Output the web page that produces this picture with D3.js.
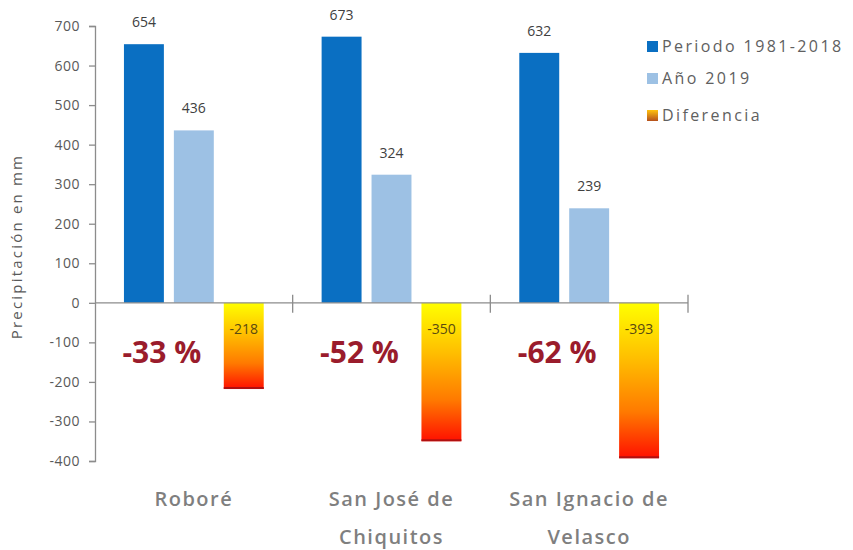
<!DOCTYPE html>
<html>
<head>
<meta charset="utf-8">
<script src="https://cdn.jsdelivr.net/npm/d3@7"></script>
<style>
  html, body { margin: 0; padding: 0; background: #fff; }
  svg { display: block; font-family: "Open Sans", "Noto Sans", sans-serif; }
</style>
</head>
<body>
<svg id="chart" width="853" height="550"></svg>
<script>
// Precipitation by station: long-term mean, 2019, and their difference
const categories = [["Roboré"], ["San José de", "Chiquitos"], ["San Ignacio de", "Velasco"]];
const seriesNames = ["Periodo 1981-2018", "Año 2019", "Diferencia"];
const periodo = [654, 673, 632];
const anio2019 = [436, 324, 239];
const diferencia = [-218, -350, -393];
const percentLabels = ["-33 %", "-52 %", "-62 %"];
const yTicks = [700, 600, 500, 400, 300, 200, 100, 0, -100, -200, -300, -400];

const svg = d3.select("#chart");
const catKeys = categories.map(c => c.join(" "));

const margin = { left: 95, right: 165, top: 26, bottom: 89 };
const W = 853, H = 550;

const y = d3.scaleLinear().domain([-400, 700]).range([H - margin.bottom, margin.top]);
const x0 = d3.scaleBand().domain(catKeys).range([margin.left, W - margin.right]);
const x1 = d3.scaleBand().domain(seriesNames).range([0, x0.bandwidth()])
  .paddingInner(0.2).paddingOuter(0.58);

const defs = svg.append("defs");
const grad = defs.append("linearGradient").attr("id", "diffGrad")
  .attr("x1", 0).attr("y1", 0).attr("x2", 0).attr("y2", 1);
grad.append("stop").attr("offset", "0%").attr("stop-color", "#ffff00");
grad.append("stop").attr("offset", "35%").attr("stop-color", "#ffc000");
grad.append("stop").attr("offset", "70%").attr("stop-color", "#ff7a00");
grad.append("stop").attr("offset", "100%").attr("stop-color", "#ff1000");

const legGrad = defs.append("linearGradient").attr("id", "legGrad")
  .attr("x1", 0).attr("y1", 0).attr("x2", 0).attr("y2", 1);
legGrad.append("stop").attr("offset", "0%").attr("stop-color", "#ffc20e");
legGrad.append("stop").attr("offset", "100%").attr("stop-color", "#b5501c");

const colors = { "Periodo 1981-2018": "#0a6fc2", "Año 2019": "#9dc1e4", "Diferencia": "url(#diffGrad)" };

const rows = catKeys.map((k, i) => ({
  key: k,
  values: [
    { s: seriesNames[0], v: periodo[i] },
    { s: seriesNames[1], v: anio2019[i] },
    { s: seriesNames[2], v: diferencia[i] }
  ]
}));

// bars
const groups = svg.append("g").selectAll("g").data(rows).join("g")
  .attr("transform", d => `translate(${x0(d.key)},0)`);

groups.selectAll("rect").data(d => d.values).join("rect")
  .attr("x", d => x1(d.s))
  .attr("width", x1.bandwidth())
  .attr("y", d => y(Math.max(0, d.v)))
  .attr("height", d => Math.abs(y(d.v) - y(0)))
  .attr("fill", d => colors[d.s]);

// dark-red bottom edge of the difference bars
groups.append("line")
  .attr("x1", x1(seriesNames[2])).attr("x2", x1(seriesNames[2]) + x1.bandwidth())
  .attr("y1", (d, i) => y(diferencia[i]) - 1).attr("y2", (d, i) => y(diferencia[i]) - 1)
  .attr("stroke", "#b01010").attr("stroke-width", 2);

// value labels
groups.selectAll("text.val").data(d => d.values).join("text")
  .attr("class", "val")
  .attr("x", d => x1(d.s) + x1.bandwidth() / 2)
  .attr("y", d => d.v >= 0 ? y(d.v) - 17 : y(0) + 31)
  .attr("text-anchor", "middle")
  .attr("font-size", 14)
  .attr("fill", d => d.v >= 0 ? "#404040" : "#5a4a10")
  .text(d => String(d.v));

// percentage change labels
groups.append("text")
  .attr("x", x0.bandwidth() / 2 - 32)
  .attr("y", y(0) + 60)
  .attr("text-anchor", "middle")
  .attr("font-size", 30)
  .attr("font-weight", 700)
  .attr("fill", "#9a1c2c")
  .text((d, i) => percentLabels[i]);

// y axis
const yAxis = svg.append("g").attr("transform", `translate(${margin.left},0)`)
  .call(d3.axisLeft(y).tickValues(yTicks).tickSize(6).tickPadding(9).tickFormat(d => String(d)));
yAxis.select(".domain").attr("stroke", "#8c8c8c").attr("stroke-width", 1.3);
yAxis.selectAll(".tick line").attr("stroke", "#8c8c8c").attr("stroke-width", 1.3);
yAxis.selectAll(".tick text").attr("font-size", 14).attr("fill", "#595959")
  .attr("font-family", "Open Sans, sans-serif").attr("letter-spacing", 0.5);

// zero line with category separators
svg.append("line")
  .attr("x1", margin.left).attr("x2", W - margin.right)
  .attr("y1", y(0)).attr("y2", y(0))
  .attr("stroke", "#8c8c8c").attr("stroke-width", 1.3);
svg.append("g").selectAll("line").data(catKeys.slice(1).concat([null])).join("line")
  .attr("x1", d => d ? x0(d) : x0.range()[1])
  .attr("x2", d => d ? x0(d) : x0.range()[1])
  .attr("y1", y(0) - 8).attr("y2", y(0) + 10)
  .attr("stroke", "#8c8c8c").attr("stroke-width", 1.3);

// category labels
const catLab = svg.append("g").selectAll("text").data(categories).join("text")
  .attr("x", (d, i) => x0(catKeys[i]) + x0.bandwidth() / 2)
  .attr("y", 506)
  .attr("text-anchor", "middle")
  .attr("font-size", 20)
  .attr("font-weight", 600)
  .attr("letter-spacing", 1.5)
  .attr("fill", "#7f7f7f");
catLab.selectAll("tspan").data(d => d).join("tspan")
  .attr("x", function () { return this.parentNode.getAttribute("x"); })
  .attr("dy", (d, i) => i === 0 ? 0 : 38)
  .text(d => d);

// y axis title
svg.append("text")
  .attr("transform", `translate(22,${(margin.top + H - margin.bottom) / 2 + 3}) rotate(-90)`)
  .attr("text-anchor", "middle")
  .attr("font-size", 15)
  .attr("letter-spacing", 2.2)
  .attr("fill", "#595959")
  .text("Precipitación en mm");

// legend
const legendFills = ["#0a6fc2", "#9dc1e4", "url(#legGrad)"];
const legendY = [47, 79, 116];
const leg = svg.append("g").selectAll("g").data(seriesNames).join("g")
  .attr("transform", (d, i) => `translate(647,${legendY[i]})`);
leg.append("rect").attr("x", 0).attr("y", -6).attr("width", 11).attr("height", 11)
  .attr("fill", (d, i) => legendFills[i]);
leg.append("text").attr("x", 15).attr("y", 5)
  .attr("font-size", 16).attr("letter-spacing", 2.4).attr("fill", "#606060")
  .text(d => d);
</script>
</body>
</html>
